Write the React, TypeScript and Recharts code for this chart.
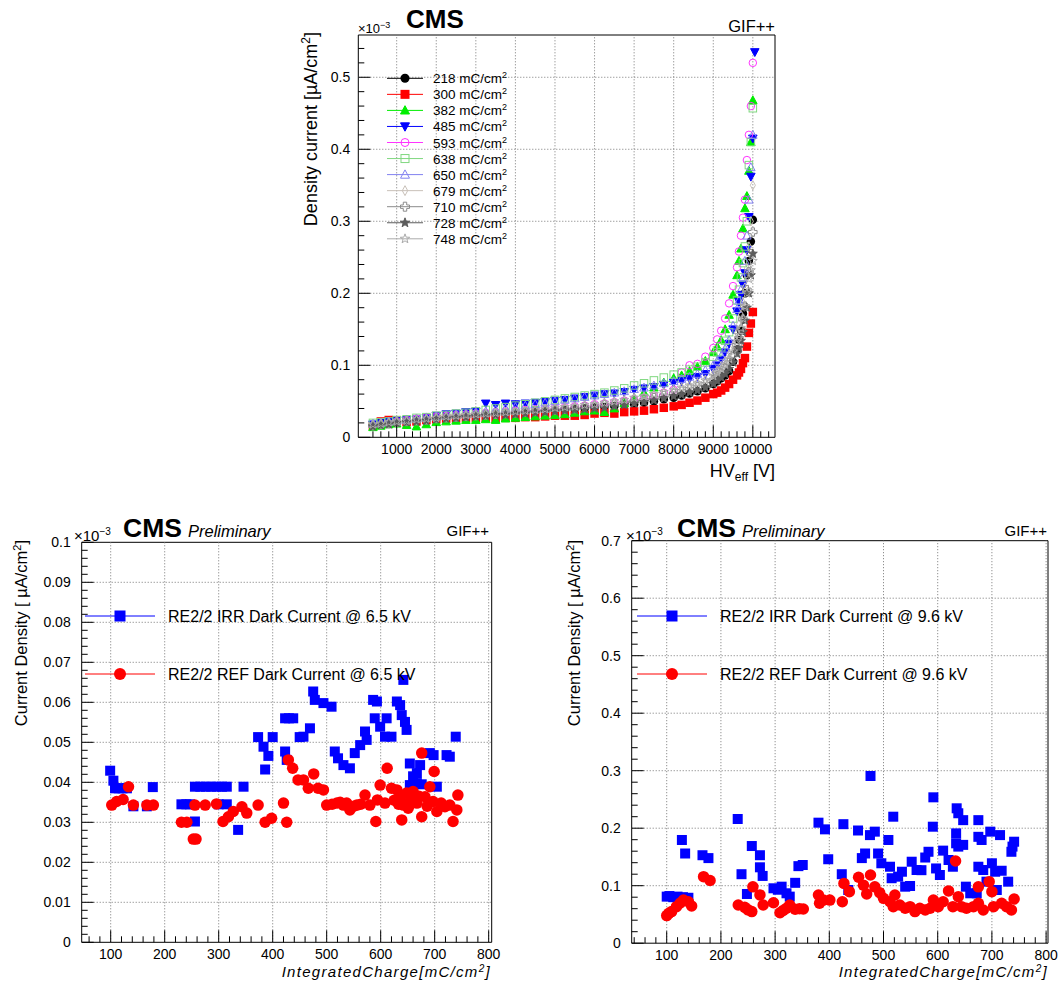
import React from "react";
import { ScatterChart, Scatter, XAxis, YAxis, ReferenceLine, ReferenceArea } from "recharts";

const FONT = "'Liberation Sans', Arial, Helvetica, sans-serif";

// ---- top panel: density current (x1e-3 uA/cm2) vs HV_eff (V), one scan per integrated charge
const hvEff = [
  400, 600, 800, 1000, 1250, 1500, 1750, 2000,
  2250, 2500, 2750, 3000, 3250, 3500, 3750, 4000,
  4250, 4500, 4750, 5000, 5250, 5500, 5750, 6000,
  6250, 6500, 6750, 7000, 7250, 7500, 7750, 8000,
  8200, 8400, 8600, 8800, 9000, 9100, 9200, 9300,
  9400, 9500, 9600, 9650, 9700, 9750, 9800, 9850,
  9900, 9950, 10000, 10050,
];

const j218 = [
  0.017, 0.019, 0.021, 0.022, 0.024, 0.025, 0.026, 0.028,
  0.029, 0.029, 0.030, 0.031, 0.032, 0.032, 0.033, 0.034,
  0.035, 0.035, 0.036, 0.037, 0.038, 0.039, 0.040, 0.041,
  0.042, 0.043, 0.045, 0.046, 0.048, 0.050, 0.053, 0.055,
  0.058, 0.061, 0.064, 0.068, 0.074, 0.078, 0.082, 0.086,
  0.092, 0.105, 0.122, 0.135, 0.148, 0.172, 0.200, 0.225,
  0.245, 0.272, 0.302, null,
];
const j300 = [
  0.016, 0.022, 0.024, 0.023, 0.021, 0.022, 0.024, 0.025,
  0.026, 0.026, 0.027, 0.027, 0.027, 0.026, 0.027, 0.027,
  0.028, 0.028, 0.029, 0.030, 0.030, 0.030, 0.031, 0.033,
  0.034, 0.033, 0.035, 0.036, 0.037, 0.039, 0.041, 0.043,
  0.045, 0.048, 0.051, 0.055, 0.060, 0.062, 0.065, 0.069,
  0.074, 0.080, 0.086, 0.090, 0.095, 0.103, 0.110, 0.126,
  0.145, 0.158, 0.174, null,
];
const j382 = [
  0.014, 0.016, 0.018, 0.019, 0.017, 0.015, 0.018, 0.021,
  0.022, 0.023, 0.024, 0.024, 0.025, 0.024, 0.026, 0.027,
  0.028, 0.029, 0.030, 0.031, 0.032, 0.034, 0.036, 0.037,
  0.035, 0.040, 0.047, 0.055, 0.062, 0.069, 0.076, 0.082,
  0.086, 0.092, 0.098, 0.106, 0.118, 0.126, 0.135, 0.150,
  0.170, 0.198, 0.225, 0.245, 0.262, 0.290, 0.318, 0.335,
  0.370, 0.410, 0.468, null,
];
const j485 = [
  0.018, 0.020, 0.022, 0.023, 0.024, 0.025, 0.027, 0.030,
  0.032, 0.033, 0.035, 0.036, 0.047, 0.045, 0.047, 0.046,
  0.047, 0.048, 0.049, 0.051, 0.052, 0.054, 0.056, 0.058,
  0.060, 0.061, 0.063, 0.066, 0.068, 0.070, 0.073, 0.076,
  0.078, 0.081, 0.084, 0.088, 0.095, 0.100, 0.108, 0.118,
  0.130, 0.150, 0.175, 0.188, 0.198, 0.212, 0.228, 0.260,
  0.306, 0.362, 0.415, 0.535,
];
const j593 = [
  null, null, null, 0.022, 0.024, 0.026, 0.028, 0.029,
  0.030, 0.031, 0.032, 0.033, 0.034, 0.035, 0.036, 0.037,
  0.038, 0.039, 0.040, 0.041, 0.042, 0.043, 0.044, 0.046,
  0.047, 0.049, 0.051, 0.053, 0.055, 0.058, 0.062, 0.066,
  0.090, 0.100, 0.102, 0.112, 0.124, 0.136, 0.148, 0.165,
  0.186, 0.210, 0.236, 0.258, 0.280, 0.305, 0.330, 0.385,
  0.420, 0.460, 0.520, null,
];
const j638 = [
  0.020, 0.021, 0.022, 0.024, 0.025, 0.027, 0.028, 0.030,
  0.031, 0.033, 0.034, 0.036, 0.038, 0.040, 0.042, 0.044,
  0.046, 0.048, 0.050, 0.052, 0.054, 0.056, 0.058, 0.060,
  0.062, 0.065, 0.068, 0.072, 0.075, 0.079, 0.083, 0.087,
  0.090, 0.094, 0.098, 0.104, 0.112, 0.118, 0.125, 0.134,
  0.146, 0.165, 0.190, 0.205, 0.222, 0.242, 0.265, 0.300,
  0.378, 0.410, 0.457, null,
];
const j650 = [
  0.019, 0.020, 0.022, 0.023, 0.024, 0.026, 0.027, 0.029,
  0.030, 0.032, 0.033, 0.035, 0.036, 0.038, 0.040, 0.042,
  0.044, 0.046, 0.048, 0.050, 0.052, 0.054, 0.056, 0.058,
  0.060, 0.062, 0.064, 0.067, 0.069, 0.072, 0.075, 0.078,
  0.081, 0.084, 0.088, 0.093, 0.100, 0.106, 0.113, 0.123,
  0.135, 0.155, 0.178, 0.190, 0.205, 0.222, 0.245, 0.280,
  0.330, 0.375, 0.420, null,
];
const j679 = [
  0.017, 0.019, 0.020, 0.022, 0.023, 0.024, 0.025, 0.027,
  0.028, 0.029, 0.030, 0.031, 0.032, 0.033, 0.034, 0.035,
  0.036, 0.037, 0.039, 0.040, 0.041, 0.042, 0.044, 0.045,
  0.047, 0.049, 0.051, 0.054, 0.056, 0.059, 0.062, 0.066,
  0.069, 0.072, 0.076, 0.080, 0.088, 0.093, 0.099, 0.106,
  0.115, 0.127, 0.145, 0.157, 0.170, 0.187, 0.208, 0.235,
  0.265, 0.300, 0.350, null,
];
const j710 = [
  0.016, 0.018, 0.019, 0.021, 0.022, 0.023, 0.024, 0.026,
  0.027, 0.028, 0.029, 0.030, 0.031, 0.032, 0.033, 0.034,
  0.035, 0.036, 0.037, 0.038, 0.039, 0.040, 0.042, 0.043,
  0.045, 0.046, 0.048, 0.050, 0.052, 0.055, 0.058, 0.061,
  0.064, 0.067, 0.070, 0.074, 0.080, 0.085, 0.090, 0.096,
  0.104, 0.114, 0.128, 0.138, 0.150, 0.164, 0.182, 0.205,
  0.230, 0.255, 0.285, null,
];
const j728 = [
  0.015, 0.017, 0.018, 0.020, 0.021, 0.022, 0.023, 0.025,
  0.026, 0.027, 0.028, 0.029, 0.030, 0.031, 0.031, 0.032,
  0.033, 0.034, 0.035, 0.036, 0.037, 0.038, 0.039, 0.040,
  0.041, 0.043, 0.045, 0.047, 0.049, 0.051, 0.054, 0.057,
  0.059, 0.062, 0.065, 0.069, 0.074, 0.078, 0.083, 0.088,
  0.095, 0.104, 0.116, 0.124, 0.134, 0.146, 0.162, 0.180,
  0.200, 0.225, 0.255, null,
];
const j748 = [
  0.018, 0.019, 0.021, 0.022, 0.023, 0.025, 0.026, 0.027,
  0.029, 0.030, 0.031, 0.032, 0.033, 0.034, 0.035, 0.036,
  0.037, 0.038, 0.039, 0.041, 0.042, 0.043, 0.045, 0.046,
  0.048, 0.050, 0.052, 0.055, 0.057, 0.060, 0.063, 0.066,
  0.069, 0.072, 0.075, 0.079, 0.085, 0.090, 0.095, 0.101,
  0.109, 0.119, 0.133, 0.142, 0.152, 0.165, 0.182, 0.200,
  0.220, 0.232, 0.245, null,
];

const chargeLabels = ["218", "300", "382", "485", "593", "638", "650", "679", "710", "728", "748"];
const scans = [j218, j300, j382, j485, j593, j638, j650, j679, j710, j728, j748];
const scanColors = ["#000000", "#ff0000", "#00ee00", "#0000ff", "#ff33ff", "#80d880", "#8282f0", "#c9c1b9", "#8c8c8c", "#5c5c5c", "#ababab"];
const scanMarkers = ["circle", "square", "triUp", "triDown", "circleOpen", "squareOpen", "triUpOpen", "diamondOpen", "crossOpen", "star", "starOpen"];

const hvTicks = [1000, 2000, 3000, 4000, 5000, 6000, 7000, 8000, 9000, 10000];
const densityTicks = [0, 0.1, 0.2, 0.3, 0.4, 0.5];

// ---- bottom panels: dark current density vs integrated charge (mC/cm2)
const chargeTicks = [100, 200, 300, 400, 500, 600, 700, 800];
const lowTicks = [0, 0.01, 0.02, 0.03, 0.04, 0.05, 0.06, 0.07, 0.08, 0.09, 0.1];
const highTicks = [0, 0.1, 0.2, 0.3, 0.4, 0.5, 0.6, 0.7];

// @ 6.5 kV
const irrCharge65 = [
  99, 105, 108, 115, 122, 130, 142, 167, 178, 231, 240, 247, 256, 256, 266, 276, 286, 296, 300, 306,
  315, 315, 336, 346, 373, 383, 386, 392, 400, 423, 423, 426, 430, 438, 450, 457, 469, 475, 478, 494,
  509, 515, 521, 531, 543, 552, 562, 571, 574, 586, 589, 593, 599, 608, 611, 620, 630, 636, 639, 642,
  645, 648, 654, 654, 660, 667, 667, 673, 676, 691, 698, 704, 722, 728, 739,
];
const irrDensity65 = [
  0.0429, 0.0404, 0.0385, 0.0385, 0.0385, 0.0385, 0.034, 0.034, 0.0388, 0.0345, 0.0345, 0.0345, 0.0302, 0.0389, 0.0389, 0.0389, 0.0389, 0.0389, 0.0345, 0.0389,
  0.0389, 0.0345, 0.0281, 0.0389, 0.0513, 0.0489, 0.0432, 0.0466, 0.0513, 0.056, 0.0477, 0.0456, 0.056, 0.056, 0.0513, 0.0514, 0.0535, 0.0627, 0.0606, 0.0598,
  0.0589, 0.0477, 0.046, 0.0443, 0.0435, 0.0473, 0.0493, 0.0527, 0.0506, 0.0606, 0.056, 0.0602, 0.0539, 0.0514, 0.056, 0.0514, 0.0602, 0.0593, 0.0568, 0.0656,
  0.0551, 0.0531, 0.0447, 0.0393, 0.0415, 0.0423, 0.0398, 0.0443, 0.0395, 0.0473, 0.0468, 0.0389, 0.0468, 0.0464, 0.0514,
];
const refCharge65 = [
  102, 111, 123, 133, 142, 167, 179, 231, 241, 253, 256, 258, 275, 296, 308, 318, 327, 343, 352, 373,
  386, 398, 420, 426, 429, 437, 447, 457, 466, 476, 484, 494, 500, 510, 519, 525, 531, 537, 543, 550,
  556, 563, 571, 580, 591, 594, 599, 608, 612, 620, 625, 630, 633, 636, 639, 642, 648, 651, 654, 660,
  663, 667, 671, 676, 676, 682, 686, 691, 697, 699, 704, 712, 719, 728, 734, 741, 743,
];
const refDensity65 = [
  0.0343, 0.0352, 0.0357, 0.0389, 0.0343, 0.0343, 0.0343, 0.03, 0.03, 0.0258, 0.0343, 0.0258, 0.0343, 0.0346, 0.0302, 0.0314, 0.0327, 0.0339, 0.0323, 0.0343,
  0.03, 0.031, 0.0348, 0.03, 0.0456, 0.0435, 0.0406, 0.0406, 0.0385, 0.0421, 0.0385, 0.0381, 0.0343, 0.0345, 0.0348, 0.035, 0.0343, 0.0348, 0.0331, 0.034,
  0.0343, 0.0345, 0.0368, 0.0343, 0.0302, 0.0356, 0.0393, 0.0348, 0.0435, 0.0385, 0.0355, 0.0381, 0.0345, 0.036, 0.0306, 0.0343, 0.0373, 0.0335, 0.0352, 0.0377,
  0.0355, 0.0348, 0.0365, 0.0473, 0.0314, 0.0364, 0.034, 0.0389, 0.0352, 0.0427, 0.0327, 0.0348, 0.0339, 0.0343, 0.0302, 0.0331, 0.0368,
];

// @ 9.6 kV
const irrCharge96 = [
  100, 105, 112, 120, 128, 130, 134, 140, 166, 177, 231, 238, 248, 257, 272, 272, 277, 297, 305, 312,
  321, 327, 337, 343, 351, 380, 392, 398, 423, 426, 435, 453, 460, 466, 475, 476, 484, 490, 496, 509,
  512, 515, 518, 527, 534, 540, 549, 552, 561, 570, 577, 583, 591, 592, 597, 604, 610, 620, 628, 634,
  634, 635, 638, 638, 647, 647, 652, 660, 672, 675, 675, 675, 681, 684, 690, 697, 700, 706, 709, 715,
  718, 730, 736, 738, 741,
];
const irrDensity96 = [
  0.081, 0.082, 0.08, 0.081, 0.1795, 0.08, 0.156, 0.079, 0.153, 0.148, 0.216, 0.12, 0.0856, 0.169, 0.153, 0.132, 0.117, 0.0955, 0.093, 0.0983,
  0.0868, 0.081, 0.105, 0.134, 0.136, 0.2096, 0.198, 0.146, 0.12, 0.207, 0.0925, 0.196, 0.148, 0.156, 0.188, 0.2908, 0.194, 0.156, 0.139, 0.1795,
  0.133, 0.113, 0.22, 0.1157, 0.1243, 0.0983, 0.0995, 0.1417, 0.1273, 0.127, 0.149, 0.159, 0.2026, 0.2537, 0.13, 0.1186, 0.161, 0.1447, 0.133, 0.191,
  0.1737, 0.2346, 0.226, 0.168, 0.171, 0.214, 0.0983, 0.0868, 0.0868, 0.214, 0.185, 0.133, 0.1795, 0.1273, 0.107, 0.194, 0.139, 0.1243, 0.0925, 0.188,
  0.126, 0.107, 0.159, 0.168, 0.1765,
];
const refCharge96 = [
  100, 104, 109, 118, 125, 131, 140, 146, 168, 180, 232, 244, 250, 257, 259, 272, 278, 297, 309, 315,
  321, 327, 337, 345, 352, 380, 382, 389, 401, 424, 427, 437, 454, 463, 469, 476, 484, 493, 500, 512,
  518, 521, 530, 540, 549, 558, 567, 577, 586, 592, 601, 610, 620, 628, 633, 638, 644, 653, 666, 675,
  675, 684, 695, 700, 703, 718, 727, 736, 741,
];
const refDensity96 = [
  0.048, 0.052, 0.055, 0.0635, 0.07, 0.075, 0.072, 0.0647, 0.1157, 0.109, 0.0664, 0.0624, 0.058, 0.055, 0.098, 0.084, 0.0664, 0.0704, 0.053, 0.057,
  0.0607, 0.0664, 0.059, 0.06, 0.0595, 0.0838, 0.0694, 0.075, 0.075, 0.072, 0.104, 0.0896, 0.1146, 0.101, 0.0856, 0.1186, 0.098, 0.0878, 0.078, 0.072,
  0.0635, 0.0838, 0.0664, 0.0607, 0.0635, 0.055, 0.0607, 0.0577, 0.0607, 0.075, 0.0635, 0.072, 0.091, 0.0635, 0.143, 0.081, 0.0635, 0.0607, 0.0635, 0.098,
  0.0694, 0.0577, 0.107, 0.0896, 0.0635, 0.0694, 0.0635, 0.0577, 0.0769,
];

const IRR_BLUE = "#0000ff";
const REF_RED = "#ff0000";

const zip = (xs: number[], ys: (number | null)[]) =>
  xs.map((x, i) => ({ x, y: ys[i] })).filter((p) => p.y != null);

const steps = (lo: number, hi: number, step: number) => {
  const out: number[] = [];
  for (let v = lo; v <= hi + 1e-9; v += step) out.push(Math.round(v * 1e6) / 1e6);
  return out;
};
const isIn = (arr: number[], v: number) => arr.some((m) => Math.abs(m - v) < 1e-9);

// ROOT-like marker glyphs
function Glyph({ kind, cx, cy, s, color }: { kind: string; cx: number; cy: number; s: number; color: string }) {
  const h = s / 2;
  const poly = (pts: number[][], filled: boolean) => (
    <polygon
      points={pts.map((p) => `${cx + p[0]},${cy + p[1]}`).join(" ")}
      fill={filled ? color : "none"}
      stroke={color}
      strokeWidth={1}
    />
  );
  const star = () => {
    const pts: number[][] = [];
    for (let k = 0; k < 10; k++) {
      const r = k % 2 === 0 ? h * 1.1 : h * 0.45;
      const a = -Math.PI / 2 + (k * Math.PI) / 5;
      pts.push([r * Math.cos(a), r * Math.sin(a)]);
    }
    return pts;
  };
  const w = h * 0.38;
  switch (kind) {
    case "circle":
      return <circle cx={cx} cy={cy} r={h} fill={color} />;
    case "circleOpen":
      return <circle cx={cx} cy={cy} r={h - 0.5} fill="none" stroke={color} strokeWidth={1} />;
    case "square":
      return <rect x={cx - h} y={cy - h} width={s} height={s} fill={color} />;
    case "squareOpen":
      return <rect x={cx - h + 0.5} y={cy - h + 0.5} width={s - 1} height={s - 1} fill="none" stroke={color} />;
    case "triUp":
      return poly([[0, -h * 1.05], [-h, h * 0.8], [h, h * 0.8]], true);
    case "triUpOpen":
      return poly([[0, -h * 1.05], [-h, h * 0.8], [h, h * 0.8]], false);
    case "triDown":
      return poly([[0, h * 1.05], [-h, -h * 0.8], [h, -h * 0.8]], true);
    case "diamondOpen":
      return poly([[0, -h * 1.1], [h * 0.6, 0], [0, h * 1.1], [-h * 0.6, 0]], false);
    case "crossOpen":
      return poly(
        [[-w, -h], [w, -h], [w, -w], [h, -w], [h, w], [w, w], [w, h], [-w, h], [-w, w], [-h, w], [-h, -w], [-w, -w]],
        false
      );
    case "star":
      return poly(star(), true);
    default:
      return poly(star(), false);
  }
}

type PanelProps = {
  left: number;
  top: number;
  width: number;
  height: number;
  plot: { x0: number; y0: number; x1: number; y1: number };
  xDomain: [number, number];
  yDomain: [number, number];
  xTicks: number[];
  xMinor: number[];
  yTicks: number[];
  yMinor: number[];
  font: number;
  xDy: number;
  yGap: number;
  children: React.ReactNode;
};

const AXW = 60;
const AXH = 30;

function Panel(p: PanelProps) {
  const ox = p.plot.x0 - p.left;
  const oy = p.plot.y1 - p.top;
  const margin = {
    left: ox - AXW,
    top: p.plot.y0 - p.top,
    right: p.left + p.width - p.plot.x1,
    bottom: p.top + p.height - p.plot.y1 - AXH,
  };
  const xAll = [...p.xTicks, ...p.xMinor.filter((v) => !isIn(p.xTicks, v))].sort((a, b) => a - b);
  const yAll = [...p.yTicks, ...p.yMinor.filter((v) => !isIn(p.yTicks, v))].sort((a, b) => a - b);

  const xTick = (t: any) => {
    const v = t.payload.value;
    const major = isIn(p.xTicks, v);
    return (
      <g>
        <line x1={t.x} x2={t.x} y1={oy} y2={oy - (major ? 12 : 6)} stroke="#000" strokeWidth={1} />
        {major && (
          <text x={t.x} y={oy + p.xDy} textAnchor="middle" fontSize={p.font} fontFamily={FONT} fill="#000">
            {v}
          </text>
        )}
      </g>
    );
  };
  const yTick = (t: any) => {
    const v = t.payload.value;
    const major = isIn(p.yTicks, v);
    return (
      <g>
        <line x1={ox} x2={ox + (major ? 12 : 6)} y1={t.y} y2={t.y} stroke="#000" strokeWidth={1} />
        {major && (
          <text x={ox - p.yGap} y={t.y + p.font * 0.36} textAnchor="end" fontSize={p.font} fontFamily={FONT} fill="#000">
            {v}
          </text>
        )}
      </g>
    );
  };

  return (
    <div style={{ position: "absolute", left: p.left, top: p.top }}>
      <ScatterChart width={p.width} height={p.height} margin={margin}>
        <XAxis
          type="number"
          dataKey="x"
          domain={p.xDomain}
          allowDataOverflow
          ticks={xAll}
          interval={0}
          tick={xTick}
          tickLine={false}
          axisLine={false}
          tickSize={0}
          tickMargin={0}
          height={AXH}
        />
        <YAxis
          type="number"
          dataKey="y"
          domain={p.yDomain}
          allowDataOverflow
          ticks={yAll}
          interval={0}
          tick={yTick}
          tickLine={false}
          axisLine={false}
          tickSize={0}
          tickMargin={0}
          width={AXW}
        />
        {p.xTicks
          .filter((v) => v > p.xDomain[0] && v < p.xDomain[1])
          .map((v) => (
            <ReferenceLine key={`gx${v}`} x={v} stroke="#777" strokeDasharray="1 2" strokeWidth={1} />
          ))}
        {p.yTicks
          .filter((v) => v > p.yDomain[0] && v < p.yDomain[1])
          .map((v) => (
            <ReferenceLine key={`gy${v}`} y={v} stroke="#777" strokeDasharray="1 2" strokeWidth={1} />
          ))}
        {p.children}
        <ReferenceArea
          x1={p.xDomain[0]}
          x2={p.xDomain[1]}
          y1={p.yDomain[0]}
          y2={p.yDomain[1]}
          fill="none"
          fillOpacity={0}
          stroke="#000"
          strokeWidth={1}
          ifOverflow="visible"
        />
      </ScatterChart>
    </div>
  );
}

const Sup = ({ children, size, up }: { children: React.ReactNode; size: number; up: number }) => (
  <tspan dy={-up} fontSize={size}>
    {children}
  </tspan>
);

function Overlay() {
  const bottomLegend = (x0: number, kv: string) => (
    <g>
      <line x1={x0} x2={x0 + 70} y1={616} y2={616} stroke={IRR_BLUE} strokeWidth={1} />
      <Glyph kind="square" cx={x0 + 35} cy={616} s={11} color={IRR_BLUE} />
      <text x={x0 + 83} y={621.5} fontSize={16}>
        RE2/2 IRR Dark Current @ {kv} kV
      </text>
      <line x1={x0} x2={x0 + 70} y1={674} y2={674} stroke={REF_RED} strokeWidth={1} />
      <Glyph kind="circle" cx={x0 + 35} cy={674} s={12} color={REF_RED} />
      <text x={x0 + 83} y={679.5} fontSize={16}>
        RE2/2 REF Dark Current @ {kv} kV
      </text>
    </g>
  );
  const bottomTitles = (cms: number, exp: number, gif: number, yTitleX: number, xTitleEnd: number) => (
    <g>
      <text x={cms} y={537} fontSize={26.5} fontWeight="bold">
        CMS
      </text>
      <text x={cms + 65} y={537} fontSize={16.5} fontStyle="italic">
        Preliminary
      </text>
      <text x={exp} y={541} fontSize={15}>
        ×10<Sup size={10} up={6}>−3</Sup>
      </text>
      <text x={gif} y={536} fontSize={15} textAnchor="end">
        GIF++
      </text>
      <text x={yTitleX} y={540} fontSize={16.5} textAnchor="end" transform={`rotate(-90 ${yTitleX} 540)`}>
        Current Density [ µA/cm<Sup size={11} up={6}>2</Sup>
        <tspan dy={6}>]</tspan>
      </text>
      <text x={xTitleEnd} y={977} fontSize={15} fontStyle="italic" textAnchor="end" letterSpacing={1.3}>
        IntegratedCharge[mC/cm<Sup size={10} up={5}>2</Sup>
        <tspan dy={5}>]</tspan>
      </text>
    </g>
  );

  return (
    <svg
      width={1060}
      height={983}
      style={{ position: "absolute", left: 0, top: 0, pointerEvents: "none" }}
      fontFamily={FONT}
      fill="#000"
    >
      {/* top panel texts */}
      <text x={406} y={28} fontSize={26} fontWeight="bold">
        CMS
      </text>
      <text x={358} y={33} fontSize={13}>
        ×10<Sup size={9} up={5}>−3</Sup>
      </text>
      <text x={775} y={32} fontSize={16.5} textAnchor="end">
        GIF++
      </text>
      <text x={317} y={32} fontSize={18} textAnchor="end" transform="rotate(-90 317 32)">
        Density current [µA/cm<Sup size={12} up={7}>2</Sup>
        <tspan dy={7}>]</tspan>
      </text>
      <text x={775} y={477} fontSize={18} textAnchor="end">
        HV<tspan dy={4} fontSize={12}>eff</tspan>
        <tspan dy={-4}> [V]</tspan>
      </text>
      {chargeLabels.map((lab, i) => {
        const y = 78.3 + i * 16.05;
        return (
          <g key={lab}>
            <line x1={387} x2={423} y1={y} y2={y} stroke={scanColors[i]} strokeWidth={1} />
            <Glyph kind={scanMarkers[i]} cx={405} cy={y} s={9} color={scanColors[i]} />
            <text x={433} y={y + 5} fontSize={13.5}>
              {lab} mC/cm<Sup size={9} up={5}>2</Sup>
            </text>
          </g>
        );
      })}

      {/* bottom panels texts */}
      {bottomLegend(85, "6.5")}
      {bottomLegend(637, "9.6")}
      {bottomTitles(123, 74, 489, 26.5, 491)}
      {bottomTitles(677, 626, 1047, 580, 1048)}
    </svg>
  );
}

export default function App() {
  return (
    <div
      style={{
        position: "absolute",
        left: 0,
        top: 0,
        width: 1060,
        height: 983,
        background: "#fff",
        fontFamily: FONT,
        overflow: "hidden",
      }}
    >
      <Panel
        left={280}
        top={0}
        width={520}
        height={500}
        plot={{ x0: 358.3, y0: 35, x1: 775, y1: 437.3 }}
        xDomain={[30, 10560]}
        yDomain={[0, 0.5587]}
        xTicks={hvTicks}
        xMinor={steps(400, 10400, 200)}
        yTicks={densityTicks}
        yMinor={steps(0.02, 0.54, 0.02)}
        font={14}
        xDy={17}
        yGap={8}
      >
        {scans.map((vals, i) => (
          <Scatter
            key={chargeLabels[i]}
            name={`${chargeLabels[i]} mC/cm2`}
            data={zip(hvEff, vals)}
            isAnimationActive={false}
            shape={(sp: any) => <Glyph kind={scanMarkers[i]} cx={sp.cx} cy={sp.cy} s={8.5} color={scanColors[i]} />}
          />
        ))}
      </Panel>

      <Panel
        left={0}
        top={500}
        width={520}
        height={483}
        plot={{ x0: 81.7, y0: 542.3, x1: 491.7, y1: 942.3 }}
        xDomain={[46.3, 805.6]}
        yDomain={[0, 0.1]}
        xTicks={chargeTicks}
        xMinor={steps(60, 800, 20)}
        yTicks={lowTicks}
        yMinor={steps(0.002, 0.098, 0.002)}
        font={14}
        xDy={17}
        yGap={11}
      >
        <Scatter
          name="RE2/2 IRR Dark Current @ 6.5 kV"
          data={zip(irrCharge65, irrDensity65)}
          isAnimationActive={false}
          shape={(sp: any) => <Glyph kind="square" cx={sp.cx} cy={sp.cy} s={10} color={IRR_BLUE} />}
        />
        <Scatter
          name="RE2/2 REF Dark Current @ 6.5 kV"
          data={zip(refCharge65, refDensity65)}
          isAnimationActive={false}
          shape={(sp: any) => <Glyph kind="circle" cx={sp.cx} cy={sp.cy} s={11.5} color={REF_RED} />}
        />
      </Panel>

      <Panel
        left={540}
        top={500}
        width={520}
        height={483}
        plot={{ x0: 631.7, y0: 540.7, x1: 1048, y1: 943.2 }}
        xDomain={[35.4, 803.5]}
        yDomain={[0, 0.7]}
        xTicks={chargeTicks}
        xMinor={steps(40, 800, 20)}
        yTicks={highTicks}
        yMinor={steps(0.02, 0.68, 0.02)}
        font={14}
        xDy={17}
        yGap={11}
      >
        <Scatter
          name="RE2/2 IRR Dark Current @ 9.6 kV"
          data={zip(irrCharge96, irrDensity96)}
          isAnimationActive={false}
          shape={(sp: any) => <Glyph kind="square" cx={sp.cx} cy={sp.cy} s={10} color={IRR_BLUE} />}
        />
        <Scatter
          name="RE2/2 REF Dark Current @ 9.6 kV"
          data={zip(refCharge96, refDensity96)}
          isAnimationActive={false}
          shape={(sp: any) => <Glyph kind="circle" cx={sp.cx} cy={sp.cy} s={11.5} color={REF_RED} />}
        />
      </Panel>

      <Overlay />
    </div>
  );
}
